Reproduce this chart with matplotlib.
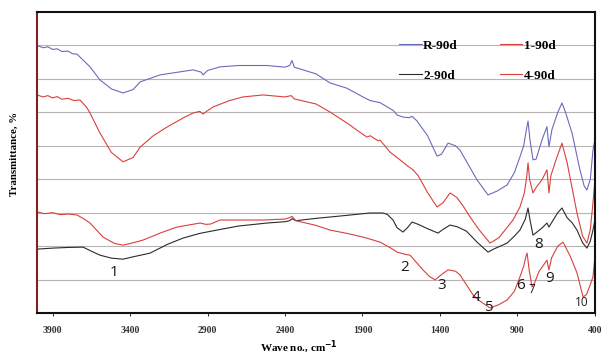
import matplotlib.pyplot as plt

# FTIR spectra (values in arbitrary transmittance units)
r_wn = [4000, 3960, 3930, 3900, 3870, 3840, 3800, 3770, 3742, 3700, 3658, 3594, 3520, 3445,
        3380, 3335, 3206, 2993, 2940, 2929, 2900, 2819, 2700, 2516, 2400, 2370, 2355,
        2340, 2200, 2110, 2000, 1897, 1850, 1787, 1700, 1677, 1639, 1600, 1580, 1550,
        1480, 1419, 1390, 1348, 1300, 1271, 1161, 1090, 1030, 967, 920, 884, 860, 840,
        832, 820, 800, 780, 740, 710, 697, 678, 640, 613, 590, 548, 497, 470, 452, 430,
        413, 400]
r_val = [80.0, 79.3, 79.6, 78.8, 79.0, 78.2, 78.3, 77.5, 77.4, 75.5, 73.6, 69.7, 67.0, 65.8,
         66.8, 69.1, 71.2, 72.7, 72.0, 71.2, 72.5, 73.6, 74.0, 74.0, 73.5, 74.0, 75.5,
         73.5, 71.5, 68.8, 67.2, 64.6, 63.5, 62.9, 60.5, 59.2, 58.6, 58.4, 58.8, 57.5,
         53.0, 46.9, 47.5, 50.8, 50.0, 48.7, 39.8, 35.3, 36.5, 38.3, 42.0, 46.7, 50.0, 55.5,
         57.4, 52.0, 45.8, 46.0, 52.0, 55.7, 49.7, 54.8, 60.0, 62.8, 60.0, 53.8, 42.8, 38.0,
         36.8, 40.0, 48.7, 52.0]

d1_wn = [4000, 3960, 3930, 3900, 3870, 3840, 3800, 3760, 3723, 3680, 3658, 3594, 3520, 3445,
         3380, 3335, 3250, 3161, 3050, 2993, 2950, 2929, 2900, 2864, 2760, 2671, 2542,
         2400, 2360, 2340, 2200, 2110, 2000, 1900, 1871, 1850, 1800, 1787, 1720, 1658,
         1610, 1574, 1540, 1480, 1419, 1380, 1335, 1290, 1251, 1206, 1150, 1077, 1020,
         929, 884, 855, 840, 832, 822, 806, 800, 780, 740, 710, 697, 685, 650, 613, 580,
         516, 480, 452, 430, 413, 400]
d1_val = [65.2, 64.6, 65.0, 64.3, 64.7, 63.9, 64.2, 63.5, 63.7, 61.5, 59.8, 53.8, 48.0, 45.2,
          46.5, 49.6, 53.0, 55.6, 58.5, 59.8, 60.3, 59.5, 60.5, 61.6, 63.5, 64.6, 65.2,
          64.6, 65.0, 64.0, 62.5, 60.1, 56.8, 53.5, 52.6, 53.0, 51.5, 51.7, 48.0, 45.8,
          44.0, 42.8, 41.0, 36.0, 31.7, 33.0, 35.9, 34.5, 32.0, 28.7, 25.0, 20.9, 22.5,
          27.8, 31.7, 36.0, 41.0, 44.9, 40.0, 37.0, 35.9, 37.5, 40.0, 42.8, 35.9, 41.0,
          46.0, 50.8, 45.0, 29.9, 23.0, 20.9, 25.0, 32.9, 40.0]

d2_wn = [4000, 3900, 3800, 3703, 3650, 3594, 3520, 3445, 3380, 3271, 3160, 3058, 2950, 2839,
         2700, 2516, 2400, 2370, 2355, 2330, 2200, 2110, 2000, 1852, 1770, 1740, 1703,
         1677, 1639, 1610, 1580, 1540, 1480, 1413, 1380, 1335, 1290, 1230, 1161, 1090,
         1050, 967, 920, 884, 850, 832, 820, 800, 780, 740, 710, 697, 680, 640, 613, 580,
         548, 516, 480, 452, 430, 413, 400]
d2_val = [19.1, 19.4, 19.6, 19.7, 18.5, 17.3, 16.4, 16.1, 16.8, 17.9, 20.5, 22.4, 23.8, 24.8,
          26.0, 26.9, 27.3, 27.6, 28.2, 27.6, 28.3, 28.7, 29.2, 29.9, 29.9, 29.5, 27.8,
          25.5, 24.2, 25.5, 27.2, 26.5, 25.2, 23.9, 25.0, 26.3, 25.8, 24.5, 21.2, 18.2,
          19.2, 20.9, 23.0, 24.8, 28.0, 31.4, 28.0, 23.3, 24.0, 25.5, 26.9, 25.7, 27.0,
          30.0, 31.4, 28.5, 27.0, 24.8, 21.0, 19.4, 21.5, 24.8, 28.0]

d4_wn = [4000, 3950, 3900, 3850, 3800, 3742, 3700, 3658, 3574, 3500, 3445, 3380, 3316, 3200,
         3097, 2948, 2910, 2880, 2819, 2700, 2542, 2400, 2370, 2355, 2330, 2200, 2110,
         2000, 1897, 1830, 1787, 1720, 1677, 1620, 1593, 1550, 1510, 1470, 1432, 1390,
         1348, 1300, 1271, 1230, 1187, 1140, 1077, 1020, 967, 920, 884, 860, 845, 838,
         825, 806, 790, 760, 710, 697, 680, 640, 606, 560, 516, 477, 455, 430, 413, 400]
d4_val = [30.2, 29.7, 30.0, 29.4, 29.6, 29.3, 28.2, 26.9, 22.7, 20.8, 20.3, 21.0, 21.8, 24.0,
          25.7, 26.9, 26.5, 26.6, 27.8, 27.8, 27.8, 28.1, 28.5, 28.9, 27.6, 26.2, 24.8,
          23.8, 22.7, 21.8, 21.2, 19.5, 18.2, 17.5, 17.3, 15.0, 12.9, 11.0, 9.9, 11.5,
          12.9, 12.5, 11.4, 8.5, 5.4, 3.5, 1.5, 2.5, 3.9, 6.5, 10.8, 14.0, 17.0, 17.9,
          13.0, 7.8, 9.0, 12.5, 15.8, 12.9, 16.5, 20.0, 21.2, 17.0, 12.0, 4.8, 5.5, 8.5,
          10.8, 17.0]

series_names = ["R-90d", "1-90d", "2-90d", "4-90d"]
x_ticks = [3900, 3400, 2900, 2400, 1900, 1400, 900, 400]

# band numbers and where they sit
band_labels = ["1", "2", "3", "4", "5", "6", "7", "8", "9", "10"]
band_pos = [(3500, 12.0), (1630, 13.5), (1390, 8.2), (1170, 4.6), (1090, 1.5),
            (880, 8.2), (810, 7.0), (765, 20.5), (690, 10.2), (485, 3.0)]
band_size = [11, 11, 11, 11, 11, 11, 8.5, 11, 11, 8.5]

plt.rcParams['font.family'] = ['Liberation Serif', 'DejaVu Serif']

fig = plt.figure(figsize=(6.03, 3.55), dpi=100)
ax = fig.add_axes([0.0614, 0.1183, 0.9253, 0.8479])

for y in range(10, 90, 10):
    ax.axhline(y, color='#b9b3b3', lw=0.8, zorder=0)

l_r, = ax.plot(r_wn, r_val, color='#6b6bbd', lw=0.8)
l_1, = ax.plot(d1_wn, d1_val, color='#d9403c', lw=0.8)
l_2, = ax.plot(d2_wn, d2_val, color='#2b2b2b', lw=0.8)
l_4, = ax.plot(d4_wn, d4_val, color='#d9403c', lw=0.8)

ax.set_xlim(4000, 400)
ax.set_ylim(0, 90)
ax.set_xticks(x_ticks)
ax.set_xticklabels([str(t) for t in x_ticks], fontsize=7, fontweight='bold', color='#333333')
ax.tick_params(axis='x', length=2, width=0.6, pad=7, direction='out')
ax.set_yticks([])

for side in ['top', 'right', 'bottom']:
    ax.spines[side].set_linewidth(1.5)
    ax.spines[side].set_color('#111111')
ax.spines['left'].set_linewidth(1.5)
ax.spines['left'].set_color('#7a2424')

ax.set_ylabel("Transmittance, %", fontsize=7.8, fontweight='bold')
ax.yaxis.set_label_coords(-0.032, 0.53)
ax.set_xlabel("Wave no., cm$^{\\mathbf{-1}}$", fontsize=8, fontweight='bold')
ax.xaxis.set_label_coords(0.47, -0.088)

# legend: columns filled first -> R / 2 in column one, 1 / 4 in column two
leg = ax.legend([l_r, l_2, l_1, l_4], [series_names[0], series_names[2], series_names[1], series_names[3]],
                ncol=2, frameon=False, loc='upper left', bbox_to_anchor=(0.628, 0.947),
                prop={'weight': 'bold', 'size': 9.5}, handlelength=1.7, handletextpad=0.1,
                columnspacing=3.2, labelspacing=1.35)

for lab, (xv, yv), fs in zip(band_labels, band_pos, band_size):
    ax.text(xv, yv, lab, fontsize=fs, family='Open Sans', ha='center', va='center', color='#1a1a1a')

fig.savefig("out.png", dpi=100)
